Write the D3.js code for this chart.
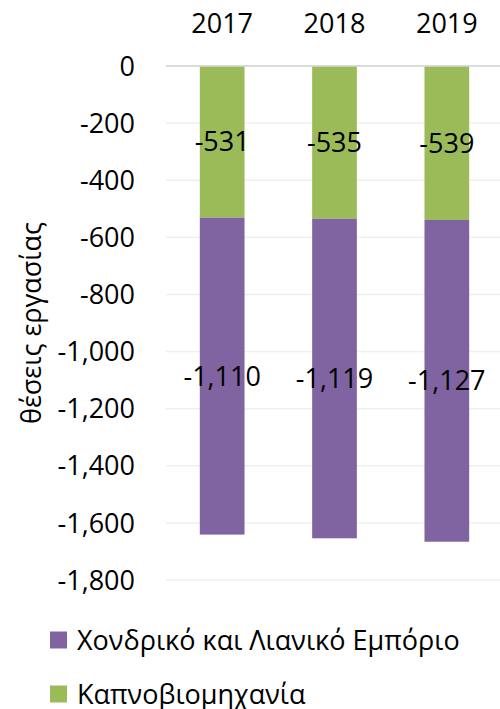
<!DOCTYPE html>
<html><head><meta charset="utf-8">
<script src="https://cdn.jsdelivr.net/npm/d3@7"></script>
<style>body{margin:0;background:#fff}svg{display:block}text{font-family:"Open Sans",sans-serif;fill:#000}</style>
</head><body>
<script>
const years = ["2017","2018","2019"];
const tobacco = [-531,-535,-539];
const trade = [-1110,-1119,-1127];
const yTicks = [0,-200,-400,-600,-800,-1000,-1200,-1400,-1600,-1800];
const seriesNames = ["Χονδρικό και Λιανικό Εμπόριο","Καπνοβιομηχανία"];
const colors = ["#8064A2","#9BBB59"];

const W=500,H=709;
const svg=d3.select("body").append("svg").attr("width",W).attr("height",H);
const x=d3.scaleBand().domain(years).range([166,503]).paddingInner(0.602).paddingOuter(0.301);
const y=d3.scaleLinear().domain([0,-1800]).range([66,580]);
const fmt=d3.formatLocale({decimal:".",thousands:",",grouping:[3],currency:["",""],minus:"-"}).format(",");
const fs=27, dy=fs*0.357;

// gridlines
svg.append("g").selectAll("line").data(yTicks).join("line")
  .attr("x1",166).attr("x2",W).attr("y1",d=>y(d)).attr("y2",d=>y(d))
  .attr("stroke",d=>d===0?"#d9d9d9":"#efefef").attr("stroke-width",1.5);

// y tick labels
svg.append("g").selectAll("text").data(yTicks).join("text")
  .attr("x",135).attr("y",d=>y(d)+dy).attr("text-anchor","end")
  .attr("font-size",fs).text(d=>fmt(d));

// stacks
const rows=years.map((yr,i)=>({year:yr,tob:tobacco[i],trade:trade[i]}));
const g=svg.append("g");
rows.forEach(r=>{
  const x0=x(r.year),bw=x.bandwidth();
  g.append("rect").attr("x",x0).attr("width",bw).attr("y",y(0)).attr("height",y(r.tob)-y(0)).attr("fill",colors[1]);
  g.append("rect").attr("x",x0).attr("width",bw).attr("y",y(r.tob)).attr("height",y(r.tob+r.trade)-y(r.tob)).attr("fill",colors[0]);
});
svg.append("line").attr("x1",166).attr("x2",W).attr("y1",y(0)).attr("y2",y(0)).attr("stroke","#d9d9d9").attr("stroke-width",1.5);

// data labels
rows.forEach(r=>{
  const cx=x(r.year)+x.bandwidth()/2;
  svg.append("text").attr("x",cx).attr("y",y(r.tob/2)+dy).attr("text-anchor","middle").attr("font-size",fs).text(fmt(r.tob));
  svg.append("text").attr("x",cx).attr("y",y(r.tob+r.trade/2)+dy).attr("text-anchor","middle").attr("font-size",fs).text(fmt(r.trade));
});

// year labels at top
svg.append("g").selectAll("text").data(years).join("text")
  .attr("x",d=>x(d)+x.bandwidth()/2).attr("y",33).attr("text-anchor","middle")
  .attr("font-size",fs).text(d=>d);

// axis title
svg.append("text").attr("transform","translate(30,323) rotate(-90)").attr("text-anchor","middle")
  .attr("dominant-baseline","central").attr("font-size",fs).text("θέσεις εργασίας");

// legend
const legY=[640,694];
seriesNames.forEach((n,i)=>{
  svg.append("rect").attr("x",50).attr("y",legY[i]-8.5).attr("width",17).attr("height",17).attr("fill",colors[i]);
  svg.append("text").attr("x",77).attr("y",legY[i]+dy).attr("font-size",fs).text(n);
});
</script>
</body></html>
